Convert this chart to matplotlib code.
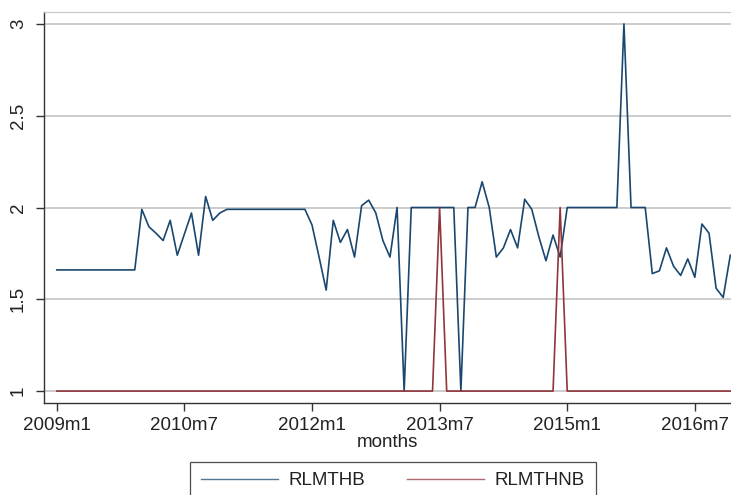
import matplotlib
matplotlib.use("Agg")
import matplotlib.pyplot as plt
import numpy as np

# monthly series, 2009m1 .. 2016m12 (index 0..95)
rlmthb = [1.66] * 12 + [
    1.99, 1.895, 1.86, 1.82, 1.93, 1.74, 1.855, 1.97, 1.74, 2.06,  # 12-21
    1.93, 1.97, 1.99, 1.99, 1.99, 1.99, 1.99, 1.99, 1.99, 1.99,    # 22-31
    1.99, 1.99, 1.99, 1.99, 1.905, 1.73, 1.55, 1.93, 1.81, 1.88,   # 32-41
    1.73, 2.01, 2.04, 1.97, 1.82, 1.73, 2.0, 1.0, 2.0, 2.0,        # 42-51
    2.0, 2.0, 2.0, 2.0, 2.0, 1.0, 2.0, 2.0, 2.14, 2.0,             # 52-61
    1.73, 1.78, 1.88, 1.78, 2.045, 1.99, 1.84, 1.71, 1.85, 1.73,   # 62-71
    2.0, 2.0, 2.0, 2.0, 2.0, 2.0, 2.0, 2.0, 3.0, 2.0,              # 72-81
    2.0, 2.0, 1.64, 1.655, 1.78, 1.68, 1.63, 1.72, 1.62, 1.91,     # 82-91
    1.86, 1.56, 1.51, 1.74,                                        # 92-95
]
rlmthnb = [1.0] * 96
rlmthnb[54] = 2.0
rlmthnb[71] = 2.0

tick_pos = [0, 18, 36, 54, 72, 90]
tick_labels = ["2009m1", "2010m7", "2012m1", "2013m7", "2015m1", "2016m7"]
y_ticks = [1, 1.5, 2, 2.5, 3]
y_labels = ["1", "1.5", "2", "2.5", "3"]

plt.rcParams['font.family'] = ['Liberation Sans', 'DejaVu Sans']
fs = 13.5

fig = plt.figure(figsize=(7.31, 4.95), dpi=100)
ax = fig.add_axes([44 / 731, 92 / 495, 1 - 44 / 731, 391 / 495])

months = np.arange(len(rlmthb))
ax.plot(months, rlmthb, color="#1a476f", lw=1.2, label="RLMTHB")
ax.plot(months, rlmthnb, color="#90353b", lw=1.2, label="RLMTHNB")

ax.set_xlim(-1.8, 95.1)
ax.set_ylim(0.935, 3.065)
ax.set_yticks(y_ticks)
ax.set_yticklabels(y_labels, rotation=90, va="center")
ax.set_xticks(tick_pos)
ax.set_xticklabels(tick_labels)
ax.tick_params(axis="both", length=5.8, width=1, color="#333333",
               labelsize=fs, labelcolor="#222222")
ax.tick_params(axis="y", pad=6.5)
ax.tick_params(axis="x", pad=4.5)
ax.grid(axis="y", color="#c8c8c8", lw=1.3)
ax.set_axisbelow(True)
ax.set_xlabel("months", fontsize=fs, labelpad=0, color="#222222")

for s in ["left", "bottom"]:
    ax.spines[s].set_color("#333333")
    ax.spines[s].set_linewidth(1.0)
ax.spines["top"].set_color("#c8c8c8")
ax.spines["right"].set_visible(False)

leg = fig.legend(loc="upper center", bbox_to_anchor=(393 / 731, 1 - 462 / 495),
                 ncol=2, fontsize=fs, frameon=True, fancybox=False,
                 handlelength=4.1, handletextpad=0.6, columnspacing=2.2,
                 borderpad=0.55, borderaxespad=0)
leg.get_frame().set_edgecolor("#222222")
leg.get_frame().set_linewidth(0.9)
for line in leg.get_lines():
    line.set_linewidth(1.0)
    line.set_alpha(0.75)
for t in leg.get_texts():
    t.set_color("#222222")

fig.savefig("out.png", dpi=100)
